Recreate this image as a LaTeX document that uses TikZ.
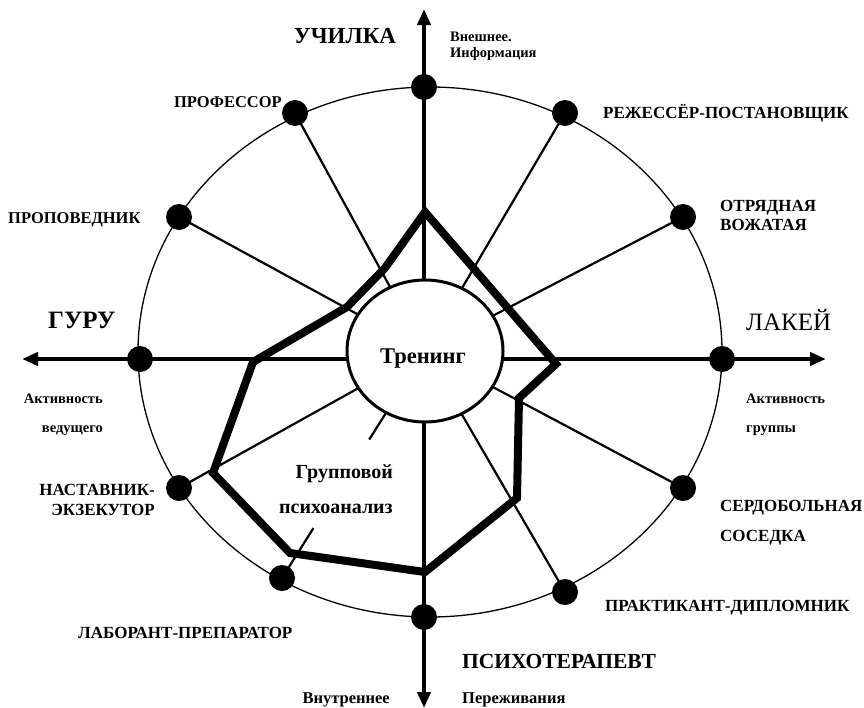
\documentclass[tikz,border=0pt]{standalone}
\usepackage{fontspec}
\setmainfont{Liberation Serif}
\usetikzlibrary{arrows.meta,calc,shapes.geometric}
\begin{document}
\begin{tikzpicture}[x=1pt,y=-1pt,
  dotnode/.style={circle,fill=black,inner sep=0pt,minimum size=26pt},
  spoke/.style={line width=2.2pt},
  axisline/.style={line width=4pt,{Triangle[length=16pt,width=13pt]}-{Triangle[length=16pt,width=13pt]}},
  role/.style={font=\bfseries\fontsize{17}{19}\selectfont,inner sep=0pt},
  bigcap/.style={font=\bfseries\fontsize{23}{25}\selectfont,inner sep=0pt},
  smalltxt/.style={font=\bfseries\fontsize{14.5}{16}\selectfont,inner sep=0pt},
  bottxt/.style={font=\bfseries\fontsize{16.5}{18}\selectfont,inner sep=0pt},
  profile/.style={line width=8pt,line join=miter}
]
\useasboundingbox (0,0) rectangle (864,707);

% outer ellipse
\draw[line width=1.3pt] (430,352) ellipse [x radius=292, y radius=265];

% axes
\coordinate (ttip) at (424,9);
\coordinate (btip) at (424,708);
\coordinate (ltip) at (22,359);
\coordinate (rtip) at (826,359);
\draw[axisline] (btip) -- (ttip);
\draw[axisline] (ltip) -- (rtip);

% centre
\coordinate (c) at (425,351);

% dot positions
\coordinate (ptop) at (424,87);
\coordinate (pprof) at (295,113);
\coordinate (pprop) at (179,217);
\coordinate (pguru) at (140,359);
\coordinate (pnast) at (179,488);
\coordinate (plab) at (282,578);
\coordinate (pbot) at (424,617);
\coordinate (pprak) at (565,592);
\coordinate (pserd) at (683,488);
\coordinate (plakei) at (722,359);
\coordinate (potr) at (683,217);
\coordinate (prezh) at (565,113);

% spokes
\draw[spoke] (c) -- (pprof);
\draw[spoke] (c) -- (pprop);
\draw[spoke] (c) -- (pnast);
\draw[spoke] (c) -- ($(c)!0.39!(plab)$);
\draw[spoke] ($(c)!0.78!(plab)$) -- (plab);
\draw[spoke] (c) -- (pprak);
\draw[spoke] (c) -- (pserd);
\draw[spoke] (c) -- (potr);
\draw[spoke] (c) -- (prezh);

% centre node
\node[ellipse,draw,line width=3pt,fill=white,minimum width=156pt,minimum height=142pt,inner sep=0pt] (tr) at (c) {};
\node[font=\bfseries\fontsize{22.5}{24}\selectfont,inner sep=0pt,anchor=base] (trtxt) at (423,363) {Тренинг};

% dots
\foreach \p in {ptop,pprof,pprop,pguru,pnast,plab,pbot,pprak,pserd,plakei,potr,prezh}
  \node[dotnode] (d\p) at (\p) {};

% profile polygon
\coordinate (q1) at (425,212);
\coordinate (q2) at (385,268);
\coordinate (q3) at (347,307);
\coordinate (q4) at (253,362);
\coordinate (q5) at (213,473);
\coordinate (q6) at (290,553);
\coordinate (q7) at (425,572);
\coordinate (q8) at (517,498);
\coordinate (q9) at (519,398);
\coordinate (q10) at (556,364);
\draw[profile] (q1) -- (q2) -- (q3) -- (q4) -- (q5) -- (q6) -- (q7) -- (q8) -- (q9) -- (q10) -- cycle;

% labels
\node[bigcap,anchor=base] (l1) at (345,43) {УЧИЛКА};
\node[smalltxt,anchor=base west] (l2) at (450,41) {Внешнее.};
\node[smalltxt,anchor=base west] (l3) at (450,57) {Информация};
\node[role,font=\bfseries\fontsize{16.5}{18}\selectfont,anchor=base east] (l4) at (282,107) {ПРОФЕССОР};
\node[role,font=\bfseries\fontsize{16.5}{18}\selectfont,anchor=base west] (l5) at (8,223) {ПРОПОВЕДНИК};
\node[role,anchor=base west] (l6) at (603,118) {РЕЖЕССЁР-ПОСТАНОВЩИК};
\node[role,anchor=base west] (l7) at (720,211) {ОТРЯДНАЯ};
\node[role,anchor=base west] (l8) at (720,230) {ВОЖАТАЯ};
\node[inner sep=0pt,font=\bfseries\fontsize{25}{27}\selectfont,anchor=base west] (l9) at (48,328) {ГУРУ};
\node[inner sep=0pt,font=\fontsize{25}{27}\selectfont,anchor=base west] (l10) at (746,330) {ЛАКЕЙ};
\node[smalltxt,anchor=base east] (l11) at (103,403) {Активность};
\node[smalltxt,anchor=base east] (l12) at (103,432) {ведущего};
\node[smalltxt,anchor=base west] (l13) at (746,403) {Активность};
\node[smalltxt,anchor=base west] (l14) at (746,432) {группы};
\node[role,anchor=base east] (l15) at (155,495) {НАСТАВНИК-};
\node[role,anchor=base east] (l16) at (155,515) {ЭКЗЕКУТОР};
\node[role,anchor=base west] (l17) at (78,638) {ЛАБОРАНТ-ПРЕПАРАТОР};
\node[role,anchor=base west] (l18) at (720,511) {СЕРДОБОЛЬНАЯ};
\node[role,anchor=base west] (l19) at (720,541) {СОСЕДКА};
\node[role,anchor=base west] (l20) at (605,611) {ПРАКТИКАНТ-ДИПЛОМНИК};
\node[bigcap,font=\bfseries\fontsize{21.5}{23}\selectfont,anchor=base west] (l21) at (462,668) {ПСИХОТЕРАПЕВТ};
\node[bottxt,anchor=base east] (l22) at (390,703) {Внутреннее};
\node[bottxt,anchor=base west] (l23) at (462,703) {Переживания};
\node[inner sep=0pt,font=\bfseries\fontsize{20}{22}\selectfont,anchor=base east] (l24) at (393,478) {Групповой};
\node[inner sep=0pt,font=\bfseries\fontsize{20}{22}\selectfont,anchor=base east] (l25) at (393,513) {психоанализ};
\end{tikzpicture}
\end{document}
